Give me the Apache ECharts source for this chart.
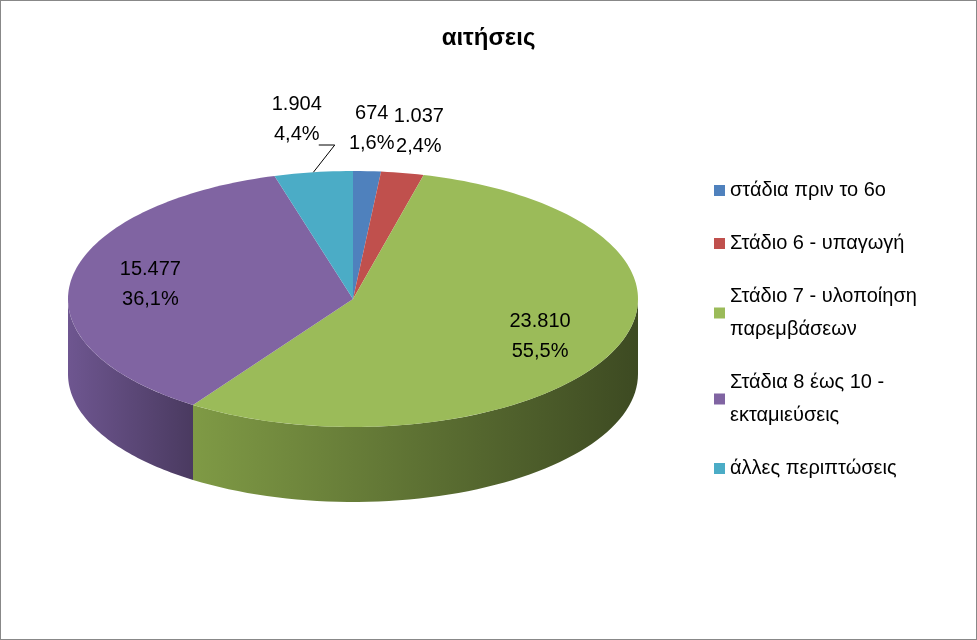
<!DOCTYPE html>
<html><head><meta charset="utf-8">
<script src="https://cdn.jsdelivr.net/npm/echarts@6/dist/echarts.min.js"></script>
<style>html,body{margin:0;padding:0;background:#fff}#c{width:975px;height:638px;border:1px solid #888}</style>
</head><body><div id="c"></div>
<script>
const categories = ['στάδια πριν το 6ο','Στάδιο 6 - υπαγωγή','Στάδιο 7 - υλοποίηση\nπαρεμβάσεων','Στάδια 8 έως 10 -\nεκταμιεύσεις','άλλες περιπτώσεις'];
const values = [674, 1037, 23810, 15477, 1904];
const valueLabels = ['674','1.037','23.810','15.477','1.904'];
const pctLabels = ['1,6%','2,4%','55,5%','36,1%','4,4%'];
const colors = ['#4F81BD','#C0504D','#9BBB59','#8064A2','#4BACC6'];
const sideDark = ['#2c4a70','#702c2a','#3d4a22','#4a3a60','#2a6575'];
const sideLight = ['#4a72a8','#a8403e','#7f9a45','#6e5690','#4398b0'];

const total = values.reduce((a,b)=>a+b,0);
const cx=352, cy=298, rx=285, ry=128, depth=75;
const labelFactor=[1.33,1.33,0.72,0.72,1.42];
const FONT='"Liberation Sans", Arial, sans-serif';
function pt(t,f,dy){f=f||1;dy=dy||0;return [cx+rx*f*Math.sin(t), cy-ry*f*Math.cos(t)+dy];}

function makeRender(i){
  return function(params, api){
    let start=0; for(let k=0;k<i;k++) start+=values[k];
    const t1=start/total*2*Math.PI, t2=(start+values[i])/total*2*Math.PI;
    const children=[];
    const a=Math.max(t1,Math.PI/2), b=Math.min(t2,3*Math.PI/2);
    if(b>a){
      const top=[],bot=[];
      const n=60;
      for(let s=0;s<=n;s++){const t=a+(b-a)*s/n; top.push(pt(t)); bot.push(pt(t,1,depth));}
      const pts=top.concat(bot.reverse());
      children.push({type:'polygon',shape:{points:pts},style:{fill:new echarts.graphic.LinearGradient(0,0,1,0,[{offset:0,color:sideLight[i]},{offset:1,color:sideDark[i]}]),stroke:null}});
    }
    const tp=[[cx,cy]]; const n=Math.max(4,Math.ceil((t2-t1)*40));
    for(let s=0;s<=n;s++){tp.push(pt(t1+(t2-t1)*s/n));}
    children.push({type:'polygon',shape:{points:tp},style:{fill:colors[i],stroke:null}});
    const tm=(t1+t2)/2; const lp=pt(tm,labelFactor[i]);
    children.push({type:'text',x:lp[0],y:lp[1],style:{text:valueLabels[i]+'\n'+pctLabels[i],fill:'#000',font:'20px '+FONT,align:'center',verticalAlign:'middle',lineHeight:30}});
    if(i===4){
      const e=pt(tm,1.0);
      children.push({type:'polyline',shape:{points:[[lp[0]+22,lp[1]+26],[lp[0]+38,lp[1]+26],[e[0],e[1]]]},style:{stroke:'#000',lineWidth:1,fill:null}});
    }
    return {type:'group',children:children};
  };
}

const series=categories.map((name,i)=>({type:'custom',name:name,coordinateSystem:'none',data:[values[i]],renderItem:makeRender(i),itemStyle:{color:colors[i]},silent:true,animation:false}));

const chart=echarts.init(document.getElementById('c'));
chart.setOption({
  animation:false,
  title:{text:'αιτήσεις',left:'center',top:20,textStyle:{fontFamily:FONT,fontSize:24,fontWeight:'bold',color:'#000'}},
  legend:{orient:'vertical',left:708,top:168,itemWidth:11,itemHeight:11,itemGap:20,icon:'rect',
    textStyle:{fontFamily:FONT,fontSize:20,color:'#000',lineHeight:33},data:categories},
  series:series
});
</script></body></html>
